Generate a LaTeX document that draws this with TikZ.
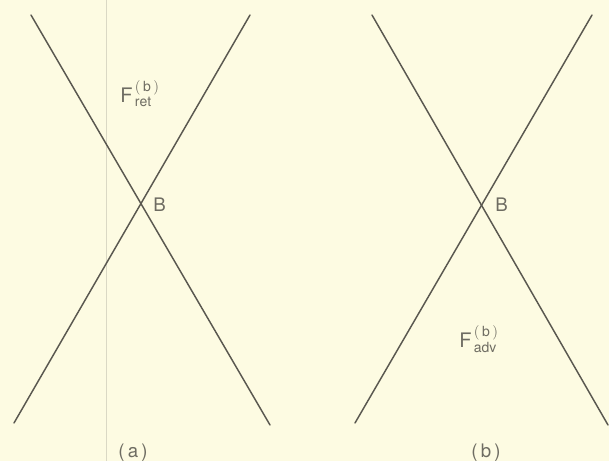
\documentclass[tikz,border=0pt]{standalone}
\usepackage{fontspec}
\setmainfont{TeX Gyre Heros}
\definecolor{paper}{HTML}{FDFBE2}
\definecolor{ink}{HTML}{5A5850}
\definecolor{txt}{HTML}{6E6C62}
\definecolor{scan}{HTML}{DAD8C4}
\begin{document}
\begin{tikzpicture}[x=0.75pt,y=-0.75pt,
  wl/.style={draw=ink,line width=1.1pt,line cap=round},
  lbl/.style={text=txt,inner sep=0pt,font=\fontsize{14}{16}\selectfont},
  flbl/.style={text=txt,inner sep=0pt,font=\fontsize{15}{17}\selectfont},
  captext/.style={text=txt,inner sep=0pt,font=\fontsize{14}{16}\selectfont}]
\fill[paper] (0,0) rectangle (609,461);
\useasboundingbox (0,0) rectangle (609,461);
% faint scan line
\draw[scan,line width=0.6pt] (106,0) -- (106,461);
% left X
\coordinate (aTL) at (31,15);
\coordinate (aBR) at (270,425);
\coordinate (aTR) at (250,15);
\coordinate (aBL) at (14,423);
\draw[wl] (aTL) -- (aBR);
\draw[wl] (aTR) -- (aBL);
% right X
\coordinate (bTL) at (372,15);
\coordinate (bBR) at (608,425);
\coordinate (bTR) at (592,15);
\coordinate (bBL) at (355,423);
\draw[wl] (bTL) -- (bBR);
\draw[wl] (bTR) -- (bBL);
% labels
\node[lbl,anchor=base west] (Ba) at (153,211) {B};
\node[lbl,anchor=base west] (Bb) at (495,211) {B};
\node[flbl,anchor=base west] (Fr) at (120,102) {F$^{\,\mathrm{(\,b\,)}}_{\,\mathrm{ret}}$};
\node[flbl,anchor=base west] (Fa) at (459,347) {F$^{\,\mathrm{(\,b\,)}}_{\,\mathrm{adv}}$};
\node[captext,anchor=base] (ca) at (133,457) {(\,a\,)};
\node[captext,anchor=base] (cb) at (486,457) {(\,b\,)};
\end{tikzpicture}
\end{document}
